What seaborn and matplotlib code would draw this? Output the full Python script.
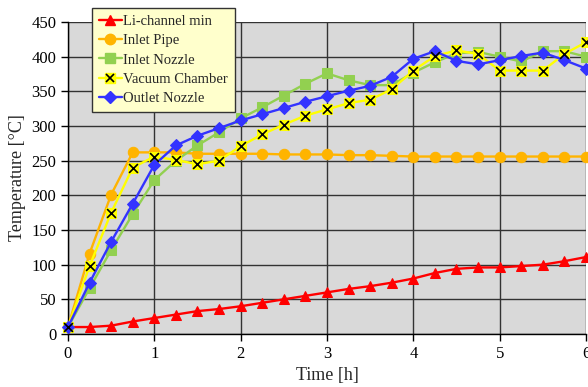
import seaborn as sns
import matplotlib.pyplot as plt
import pandas as pd
import numpy as np
from matplotlib.lines import Line2D

# time axis, every 15 min
time_h = [0, 0.25, 0.5, 0.75, 1, 1.25, 1.5, 1.75, 2, 2.25, 2.5, 2.75, 3,
          3.25, 3.5, 3.75, 4, 4.25, 4.5, 4.75, 5, 5.25, 5.5, 5.75, 6]

li_channel_min = [10, 10, 12, 18, 23, 28, 33, 36, 40, 45, 50, 55, 60,
                  65, 69, 74, 80, 88, 94, 96, 96, 98, 100, 105, 111]
inlet_pipe = [10, 116, 201, 262, 262, 262, 260, 260, 260, 260, 259, 259, 259,
              258, 258, 257, 256, 256, 256, 256, 256, 256, 256, 256, 256]
inlet_nozzle = [10, 66, 121, 173, 222, 250, 272, 291, 311, 327, 344, 361, 376,
                366, 359, 359, 377, 392, 405, 407, 400, 393, 408, 408, 400]
vacuum_chamber = [10, 98, 175, 240, 256, 251, 245, 250, 271, 288, 302, 315, 324,
                  333, 338, 353, 380, 401, 409, 404, 380, 380, 380, 404, 421]
outlet_nozzle = [10, 74, 133, 188, 244, 272, 286, 297, 308, 317, 326, 335, 343,
                 351, 358, 371, 397, 408, 394, 389, 395, 401, 406, 395, 383]

series_names = ["Li-channel min", "Inlet Pipe", "Inlet Nozzle",
                "Vacuum Chamber", "Outlet Nozzle"]
series_values = [li_channel_min, inlet_pipe, inlet_nozzle,
                 vacuum_chamber, outlet_nozzle]

colors = ["#FF0000", "#FFB400", "#92D050", "#FFFF00", "#3333FF"]
markers = ["^", "o", "s", "s", "D"]
msizes = [7, 7.5, 7, 7, 6]

sns.set_style("ticks")
plt.rcParams['font.family'] = ['Liberation Serif', 'DejaVu Serif']

fig = plt.figure(figsize=(5.88, 3.87), dpi=100)
ax = fig.add_axes([0.1156, 0.137, 0.881, 0.806])
ax.set_facecolor("#D9D9D9")

handles = []
for name, vals, c, m, ms in zip(series_names, series_values, colors, markers, msizes):
    df = pd.DataFrame({"time": time_h, "temp": vals})
    sns.lineplot(data=df, x="time", y="temp", ax=ax, color=c, marker=m,
                 markersize=ms, markeredgecolor=c, linewidth=1.7,
                 legend=False, clip_on=False, zorder=3)
    h = Line2D([], [], color=c, marker=m, markersize=ms,
               markeredgecolor=c, linewidth=1.7)
    if name == "Vacuum Chamber":
        # black cross over the yellow squares
        ax.scatter(time_h, vals, marker="x", color="black", s=40,
                   linewidths=1.2, zorder=4, clip_on=False)
        hx = Line2D([], [], color="black", marker="x", markersize=6,
                    linestyle="none", markeredgewidth=1.2)
        h = (h, hx)
    handles.append(h)

ax.set_xlim(0, 6)
ax.set_ylim(0, 450)
ax.set_xticks(np.arange(0, 7, 1))
ax.set_yticks(np.arange(0, 451, 50))
ax.grid(True, color="#333333", linewidth=1.0)
ax.set_axisbelow(True)
for s in ["top", "right"]:
    ax.spines[s].set_visible(False)
for s in ["left", "bottom"]:
    ax.spines[s].set_color("black")
    ax.spines[s].set_linewidth(1.0)
ax.tick_params(axis="both", direction="out", length=5, width=1,
               colors="black", labelsize=12)

ax.set_xlabel("Time [h]", fontsize=13)
ax.set_ylabel("Temperature [°C]", fontsize=13)

leg = fig.legend(handles, series_names, loc="upper left",
                 bbox_to_anchor=(0.1565, 0.979), borderaxespad=0,
                 fontsize=10.5, frameon=True, fancybox=False,
                 handlelength=1.6, handletextpad=0.1, borderpad=0.45,
                 labelspacing=0.42)
leg.get_frame().set_facecolor("#FFFFCC")
leg.get_frame().set_edgecolor("#333333")
leg.get_frame().set_alpha(1)
leg.get_frame().set_linewidth(1.0)

fig.savefig("out.png", dpi=100)
